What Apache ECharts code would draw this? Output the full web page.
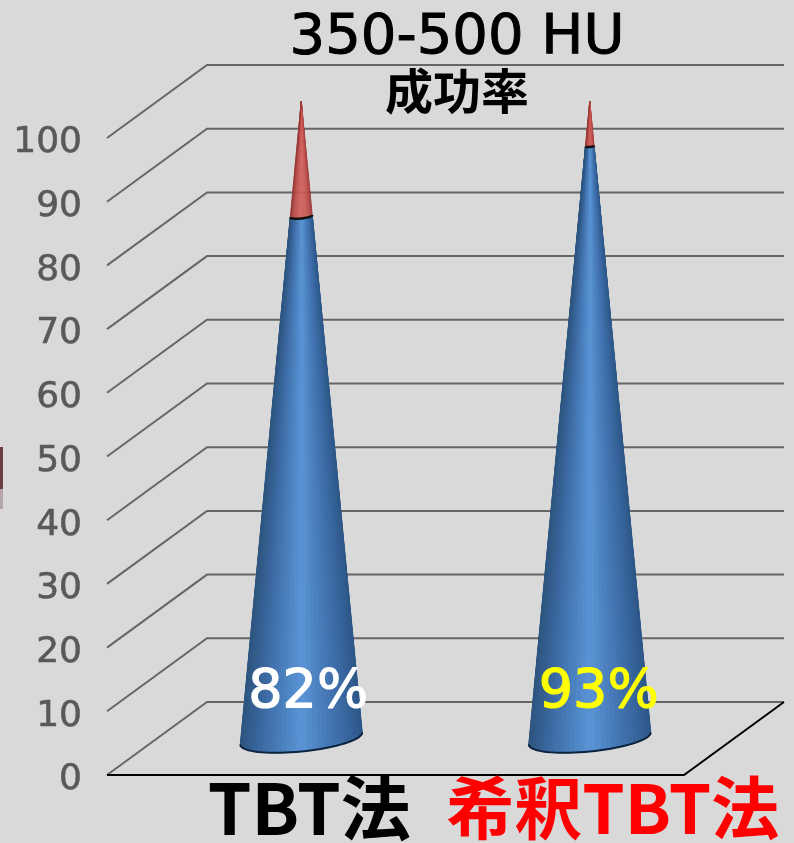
<!DOCTYPE html>
<html>
<head>
<meta charset="utf-8">
<title>350-500 HU</title>
<style>
html, body { margin: 0; padding: 0; background: #d9d9d9; }
#main { width: 794px; height: 843px; }
</style>
<script src="https://cdn.jsdelivr.net/npm/echarts@6/dist/echarts.min.js"></script>
</head>
<body>
<div id="main"></div>
<script>
var categories = ['TBT法', '希釈TBT法'];
var successRate = [82, 93];
var coneTop = [100, 100];
var yTicks = [0, 10, 20, 30, 40, 50, 60, 70, 80, 90, 100];
var labelColors = ['#ffffff', '#ffff00'];
var categoryColors = ['#000000', '#ff0000'];

// 奥行き (3D wall offset in pixels)
var DEPTH_X = 100;
var DEPTH_Y = -73;
var BASE_A = 61;
var BASE_B = 13;
var BASE_TILT = 6;
var SLICES = 36;

var shade = ['#2c5687', '#3b6ba6', '#4a7ebd', '#5a95d6', '#4b7fbe', '#3b69a2', '#2d5580'];
var shadeRed = ['#a03c39', '#bd4d4a', '#cb5a56', '#d2605b', '#c95854', '#b84a47', '#983936'];

var chart = echarts.init(document.getElementById('main'));

function renderGrid(params, api) {
	var cs = params.coordSys;
	var front = api.coord([0, api.value(1)]);
	var x0 = cs.x;
	var y0 = front[1];
	var x1 = x0 + DEPTH_X;
	var y1 = y0 + DEPTH_Y;
	// value 0 is the floor: its front edge is drawn by renderFloor
	return {
		type: 'polyline',
		shape: { points: [[x0, y0], [x1, y1], [cs.x + cs.width + DEPTH_X, y1]] },
		style: { fill: null, stroke: '#666666', lineWidth: 2 }
	};
}

function renderFloor(params, api) {
	var cs = params.coordSys;
	var y0 = api.coord([0, 0])[1];
	var right = cs.x + cs.width;
	return {
		type: 'polyline',
		shape: { points: [[cs.x, y0], [right, y0], [right + DEPTH_X, y0 + DEPTH_Y]] },
		style: { fill: null, stroke: '#000000', lineWidth: 2 }
	};
}

function rim(cx, cy, apex, ratio, t) {
	var bx = cx + BASE_A * Math.cos(t);
	var by = cy - BASE_TILT * Math.cos(t) + BASE_B * Math.sin(t);
	return [apex[0] + (bx - apex[0]) * ratio, apex[1] + (by - apex[1]) * ratio];
}

function renderCone(params, api) {
	var idx = api.value(0);
	var rate = api.value(1);
	var top = api.value(2);
	var base = api.coord([idx, 0]);
	var apex = api.coord([idx, top]);
	var cx = base[0] + DEPTH_X / 2;
	var cy = base[1] + DEPTH_Y / 2;
	apex = [apex[0] + DEPTH_X / 2, apex[1] + DEPTH_Y / 2];
	var ratio = 1 - rate / top;
	var children = [];
	var i, t0, t1, p0, p1, q0, q1, f, col, colR;
	for (i = 0; i < SLICES; i++) {
		t0 = Math.PI * i / SLICES;
		t1 = Math.PI * (i + 1) / SLICES;
		p0 = rim(cx, cy, apex, 1, t0);
		p1 = rim(cx, cy, apex, 1, t1);
		q0 = rim(cx, cy, apex, ratio, t0);
		q1 = rim(cx, cy, apex, ratio, t1);
		f = (1 - Math.cos((t0 + t1) / 2)) / 2;
		col = echarts.color.lerp(f, shade);
		colR = echarts.color.lerp(f, shadeRed);
		children.push({
			type: 'polygon',
			shape: { points: [p0, p1, q1, q0] },
			style: { fill: col, stroke: col, lineWidth: 1 }
		});
		children.push({
			type: 'polygon',
			shape: { points: [q0, q1, apex] },
			style: { fill: colR, stroke: colR, lineWidth: 0.3 }
		});
	}
	var bottomLine = [];
	var cutLine = [];
	for (i = 0; i <= SLICES; i++) {
		bottomLine.push(rim(cx, cy, apex, 1, Math.PI * i / SLICES));
		cutLine.push(rim(cx, cy, apex, ratio, Math.PI * i / SLICES));
	}
	children.push({
		type: 'polyline',
		shape: { points: bottomLine },
		style: { fill: null, stroke: '#0c2340', lineWidth: 2 }
	});
	children.push({
		type: 'polyline',
		shape: { points: cutLine },
		style: { fill: null, stroke: '#111111', lineWidth: 2.5 }
	});
	children.push({
		type: 'text',
		style: {
			x: cx + 7 + idx * 2,
			y: cy - 46,
			text: rate + '%',
			fill: labelColors[idx],
			stroke: labelColors[idx],
			lineWidth: 1.2,
			font: '54px "DejaVu Sans"',
			align: 'center',
			verticalAlign: 'middle',
			shadowColor: 'rgba(0,0,0,0.55)',
			shadowBlur: 3,
			shadowOffsetX: 2,
			shadowOffsetY: 2
		}
	});
	children.push({
		type: 'text',
		style: {
			x: cx + 8 + idx * 15,
			y: base[1] + 33,
			text: categories[idx],
			fill: categoryColors[idx],
			font: 'bold ' + (idx ? 68 : 70) + 'px "Noto Sans CJK JP"',
			align: 'center',
			verticalAlign: 'middle',
			shadowColor: idx ? 'rgba(0,0,0,0.35)' : 'transparent',
			shadowBlur: idx ? 3 : 0,
			shadowOffsetX: idx ? 2 : 0,
			shadowOffsetY: idx ? 2 : 0
		}
	});
	return { type: 'group', children: children };
}

var coneData = [];
for (var i = 0; i < categories.length; i++) {
	coneData.push([i, successRate[i], coneTop[i]]);
}
var gridData = [];
for (var j = 0; j < yTicks.length; j++) {
	gridData.push([0, yTicks[j]]);
}

var option = {
	backgroundColor: '#d9d9d9',
	animation: false,
	title: {
		text: '350-500 HU',
		subtext: '成功率',
		left: 452,
		top: 5,
		textAlign: 'center',
		itemGap: 0,
		textStyle: {
			color: '#000', fontFamily: 'DejaVu Sans', fontWeight: 'normal', fontSize: 56,
			textBorderColor: '#000', textBorderWidth: 1
		},
		subtextStyle: { color: '#000', fontFamily: 'Noto Sans CJK JP', fontWeight: 'bold', fontSize: 48 }
	},
	grid: { left: 107, right: 110, top: 138, bottom: 68 },
	xAxis: {
		type: 'category',
		data: categories,
		axisLine: { show: false },
		axisTick: { show: false },
		axisLabel: { show: false }
	},
	yAxis: {
		type: 'value',
		min: 0,
		max: 100,
		interval: 10,
		axisLine: { show: false },
		axisTick: { show: false },
		splitLine: { show: false },
		axisLabel: {
			color: '#595959',
			fontFamily: 'DejaVu Sans',
			fontSize: 36,
			margin: 25,
			verticalAlign: 'top',
			lineHeight: 10,
			textBorderColor: '#595959',
			textBorderWidth: 0.6,
			formatter: function (v) {
				return yTicks.indexOf(v) >= 0 ? String(v) : '';
			}
		}
	},
	series: [
		{ type: 'custom', data: gridData, renderItem: renderGrid, z: 1, silent: true, encode: { x: 0, y: 1 } },
		{ type: 'custom', data: [[0, 0]], renderItem: renderFloor, z: 2, silent: true, encode: { x: 0, y: 1 } },
		{ type: 'custom', data: coneData, renderItem: renderCone, z: 3, silent: true, encode: { x: 0, y: 1 } }
	],
	graphic: [
		{ type: 'rect', shape: { x: 0, y: 447, width: 3, height: 42 }, style: { fill: '#6d3b44' } },
		{ type: 'rect', shape: { x: 0, y: 489, width: 3, height: 20 }, style: { fill: '#b4a6a9' } }
	]
};
chart.setOption(option);
</script>
</body>
</html>
